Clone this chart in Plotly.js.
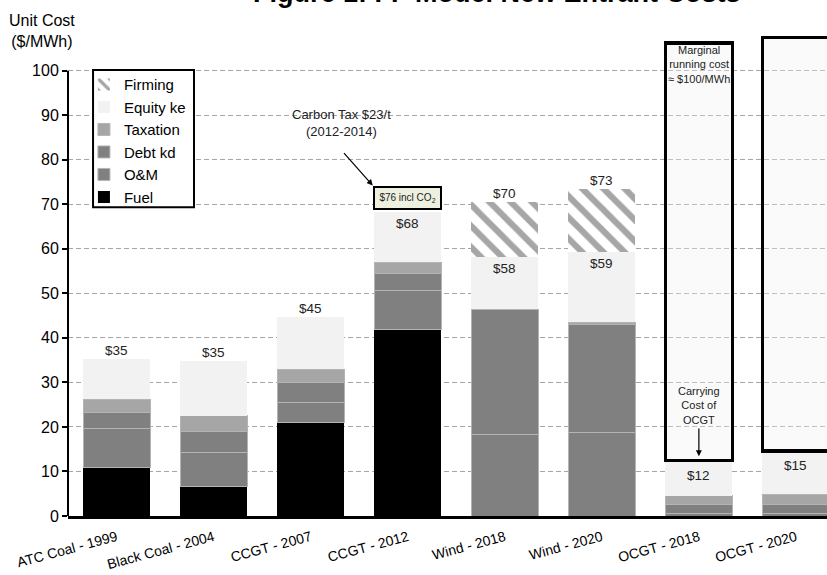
<!DOCTYPE html>
<html>
<head>
<meta charset="utf-8">
<script src="https://cdn.plot.ly/plotly-3.0.1.min.js"></script>
<style>
  html, body { margin: 0; padding: 0; background: #fff; }
  #chart { width: 827px; height: 575px; }
</style>
</head>
<body>
<div id="chart"></div>
<script>
// Technology / vintage categories
const categories = ['ATC Coal - 1999', 'Black Coal - 2004', 'CCGT - 2007', 'CCGT - 2012',
                    'Wind - 2018', 'Wind - 2020', 'OCGT - 2018', 'OCGT - 2020'];

// Cost components, $/MWh (null = component not present)
const fuel    = [10.9, 6.6, 21.0, 41.8, null, null, null, null];
const om      = [8.8, 7.7, 4.5, 8.8, 18.2, 18.8, 0.6, 0.6];
const debtKd  = [3.5, 4.6, 4.5, 3.9, 28.2, 24.2, 1.9, 1.9];
const tax     = [3.0, 3.6, 3.0, 2.5, null, 0.5, 2.0, 2.4];
const equity  = [9.1, 12.2, 11.7, 11.2, 11.7, 15.7, 7.9, 9.7];
const firming = [null, null, null, null, 12.3, 14.2, null, null];

// Marginal running cost block sitting above the OCGT carrying cost
const marginalRunning = [null, null, null, null, null, null, 93.8, 92.9];

const FONT = 'Arial, "Liberation Sans", sans-serif';
const val = v => (v == null ? 0 : v);

// Totals before and after firming
const baseTotal = categories.map((_, i) =>
  val(fuel[i]) + val(om[i]) + val(debtKd[i]) + val(tax[i]) + val(equity[i]));
const firmedTotal = categories.map((_, i) => baseTotal[i] + val(firming[i]));

function seg(name, y, color, lineColor, lineWidth, extra) {
  return Object.assign({
    type: 'bar', name: name, x: categories, y: y,
    marker: { color: color, line: { color: lineColor, width: lineWidth } },
    hoverinfo: 'skip'
  }, extra || {});
}

const traces = [
  seg('Fuel', fuel, '#000000', '#000000', 0),
  seg('O&M', om, '#808080', '#b4b4b4', 1),
  seg('Debt kd', debtKd, '#808080', '#b4b4b4', 1),
  seg('Taxation', tax, '#a6a6a6', '#b4b4b4', 1),
  seg('Equity ke', equity, '#f2f2f2', '#f2f2f2', 0),
  seg('Firming', firming, '#ffffff', '#ffffff', 0, {
    marker: {
      color: '#ffffff', line: { width: 0 },
      pattern: { shape: '\\', fgcolor: '#a6a6a6', bgcolor: '#ffffff', size: 15, solidity: 0.42 }
    }
  }),
  seg('Marginal running cost', marginalRunning, 'rgba(240,240,240,0.35)', '#000000', 3.2,
      { showlegend: false })
];

// Value labels: above the bar or just inside its top
const annotations = [];
const insideTop = [false, false, false, true, true, true, true, true];
const labelFont = { family: FONT, size: 13.5, color: '#222' };
categories.forEach((c, i) => {
  annotations.push({
    x: c, y: baseTotal[i], xref: 'x', yref: 'y',
    text: '$' + Math.round(baseTotal[i]),
    showarrow: false, font: labelFont,
    yanchor: insideTop[i] ? 'top' : 'bottom',
    yshift: insideTop[i] ? (i >= 6 ? -5 : -2) : -1
  });
  if (firming[i] != null) {
    annotations.push({
      x: c, y: firmedTotal[i], xref: 'x', yref: 'y',
      text: '$' + Math.round(firmedTotal[i]),
      showarrow: false, font: labelFont,
      yanchor: 'bottom', yshift: -1
    });
  }
});

// Carbon tax call-out on CCGT 2012
annotations.push({
  x: 3, y: 71.3, xref: 'x', yref: 'y',
  text: '$76 incl CO<sub>2</sub>', showarrow: false,
  font: { family: FONT, size: 10, color: '#222' },
  bgcolor: '#eef0df', bordercolor: '#000', borderwidth: 2, borderpad: 2,
  width: 61, height: 16
});
annotations.push({
  x: 2.32, y: 88.3, xref: 'x', yref: 'y',
  text: 'Carbon Tax $23/t<br>(2012-2014)', showarrow: false,
  font: { family: FONT, size: 13, color: '#222' }
});
annotations.push({
  x: 2.64, y: 74.2, xref: 'x', yref: 'y', ax: 2.33, ay: 81.8, axref: 'x', ayref: 'y',
  text: '', showarrow: true, arrowhead: 2, arrowsize: 1, arrowwidth: 1.2, arrowcolor: '#000'
});

// OCGT notes
annotations.push({
  x: 6, y: 24.9, xref: 'x', yref: 'y',
  text: 'Carrying<br>Cost of<br>OCGT', showarrow: false,
  font: { family: FONT, size: 11, color: '#222' }
});
annotations.push({
  x: 6, y: 13.4, xref: 'x', yref: 'y', ax: 6, ay: 20.0, axref: 'x', ayref: 'y',
  text: '', showarrow: true, arrowhead: 2, arrowsize: 1, arrowwidth: 1.2, arrowcolor: '#000'
});
annotations.push({
  x: 6, y: 101.3, xref: 'x', yref: 'y',
  text: 'Marginal<br>running cost<br>≈ $100/MWh', showarrow: false,
  font: { family: FONT, size: 11, color: '#222' }
});

// Axis title and chart title
annotations.push({
  x: -0.034, y: 1.008, xref: 'paper', yref: 'paper',
  text: 'Unit Cost<br>($/MWh)', showarrow: false, xanchor: 'center', yanchor: 'middle',
  font: { family: FONT, size: 16, color: '#000' }
});
annotations.push({
  x: 0.565, y: 1.052, xref: 'paper', yref: 'paper',
  text: '<b>Figure 1: FF Model New Entrant Costs</b>', showarrow: false,
  xanchor: 'center', yanchor: 'bottom',
  font: { family: FONT, size: 27, color: '#000' }
});

const layout = {
  width: 827, height: 575,
  margin: { l: 68, r: 0, t: 35, b: 59 },
  paper_bgcolor: '#ffffff', plot_bgcolor: '#ffffff',
  font: { family: FONT, color: '#000' },
  barmode: 'stack', bargap: 0.31,
  xaxis: {
    range: [-0.5, 7.32], tickangle: -15, tickfont: { size: 14, color: '#000' },
    ticklabelstandoff: 5,
    showline: true, linewidth: 3, linecolor: '#000', ticks: '', showgrid: false,
    zeroline: false, fixedrange: true
  },
  yaxis: {
    range: [0, 108], tickvals: [0, 10, 20, 30, 40, 50, 60, 70, 80, 90, 100],
    ticks: 'outside', ticklen: 5, tickwidth: 2, tickcolor: '#000',
    tickfont: { size: 16, color: '#000' },
    showline: false, showgrid: true, gridcolor: '#a6a6a6', gridwidth: 1, griddash: '5px,3px',
    zeroline: false, fixedrange: true
  },
  showlegend: true,
  legend: {
    x: 0.021, y: 0.931, xanchor: 'left', yanchor: 'top',
    traceorder: 'reversed', bgcolor: 'rgba(0,0,0,0)', borderwidth: 0,
    font: { family: FONT, size: 15, color: '#000' }, itemwidth: 30
  },
  shapes: [
    // legend frame
    { type: 'rect', xref: 'paper', yref: 'paper', x0: 0.0330, x1: 0.166, y0: 0.642, y1: 0.927,
      line: { color: '#000', width: 2 }, fillcolor: '#ffffff', layer: 'above' },
    // value axis spine from 0 to 100
    { type: 'line', xref: 'paper', yref: 'y', x0: 0, x1: 0, y0: 0, y1: 100,
      line: { color: '#000', width: 2 }, layer: 'above' }
  ],
  annotations: annotations
};

Plotly.newPlot('chart', traces, layout, { displayModeBar: false, staticPlot: true });
</script>
</body>
</html>
